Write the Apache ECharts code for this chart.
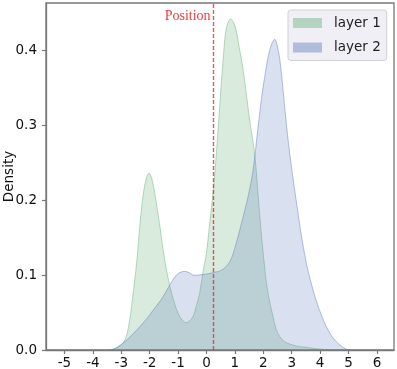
<!DOCTYPE html>
<html>
<head>
<meta charset="utf-8">
<script src="https://cdn.jsdelivr.net/npm/echarts@6/dist/echarts.min.js"></script>
<style>html,body{margin:0;padding:0;background:#fff}#c{width:397px;height:369px}</style>
</head>
<body>
<div id="c"></div>
<script>
const xTicks = [-5,-4,-3,-2,-1,0,1,2,3,4,5,6];
const yTicks = [0,0.1,0.2,0.3,0.4];
const seriesNames = ['layer 1','layer 2'];
const positionX = 0.25;
const positionLabel = 'Position';

const layer1X = [-3.6,-3.3,-3.1,-2.9,-2.75,-2.6,-2.45,-2.35,-2.22,-2.1,-2.02,-1.92,-1.82,-1.64,-1.47,-1.23,-1.0,-0.85,-0.73,-0.6,-0.47,-0.35,-0.24,-0.12,0.0,0.1,0.2,0.3,0.4,0.5,0.6,0.7,0.85,1.0,1.15,1.29,1.52,1.7,1.82,1.93,2.02,2.11,2.22,2.34,2.45,2.58,2.75,2.93,3.2,3.52,3.8,4.0,4.3,4.6];
const layer1Y = [0,0.001,0.004,0.011,0.03,0.07,0.12,0.165,0.21,0.232,0.236,0.228,0.209,0.165,0.12,0.076,0.049,0.04,0.0365,0.039,0.045,0.06,0.076,0.105,0.13,0.165,0.2,0.24,0.29,0.345,0.395,0.43,0.442,0.433,0.405,0.374,0.307,0.26,0.205,0.155,0.12,0.089,0.065,0.045,0.028,0.018,0.011,0.008,0.005,0.0035,0.002,0.0012,0.0003,0];

const layer2X = [-3.5,-3.29,-3.1,-2.82,-2.6,-2.35,-2.1,-1.88,-1.7,-1.53,-1.29,-1.06,-0.9,-0.76,-0.6,-0.45,-0.3,-0.1,0.1,0.3,0.5,0.65,0.82,0.94,1.05,1.17,1.29,1.41,1.52,1.64,1.82,1.95,2.05,2.15,2.23,2.32,2.4,2.48,2.58,2.67,2.76,2.85,2.93,3.05,3.17,3.34,3.52,3.7,3.87,4.05,4.22,4.4,4.57,4.75,4.93,5.1];
const layer2Y = [0,0.001,0.005,0.013,0.021,0.031,0.042,0.053,0.062,0.071,0.087,0.1,0.104,0.105,0.103,0.1,0.1,0.101,0.102,0.104,0.106,0.11,0.118,0.129,0.143,0.16,0.178,0.196,0.215,0.24,0.299,0.34,0.365,0.388,0.401,0.411,0.415,0.408,0.388,0.357,0.321,0.288,0.262,0.228,0.196,0.153,0.115,0.087,0.065,0.046,0.031,0.019,0.011,0.005,0.001,0];

const pair = (xs, ys) => xs.map((x, i) => [x, ys[i]]);

const chart = echarts.init(document.getElementById('c'), null, {renderer: 'canvas'});
const axisColor = '#777';
const labelFont = 'DejaVu Sans';

chart.setOption({
  animation: false,
  grid: {left: 46, right: 3, top: 3, bottom: 19, show: true, borderColor: axisColor, borderWidth: 1.3, backgroundColor: 'transparent', containLabel: false, outerBoundsMode: 'none'},
  legend: {
    left: 288, top: 10,
    orient: 'vertical',
    padding: [6, 6, 6, 5],
    itemWidth: 29, itemHeight: 10, itemGap: 10.5,
    icon: 'rect',
    backgroundColor: 'rgba(234,234,242,0.75)',
    borderColor: '#d0d0d6', borderWidth: 1, borderRadius: 3,
    textStyle: {fontFamily: labelFont, fontSize: 13.5, color: '#222', padding: [0, 0, 0, 7], lineHeight: 10},
    data: [
      {name: seriesNames[0], itemStyle: {color: 'rgba(100,175,118,0.42)', borderWidth: 0}},
      {name: seriesNames[1], itemStyle: {color: 'rgba(90,120,185,0.42)', borderWidth: 0}}
    ]
  },
  xAxis: {
    type: 'value', min: -5.65, max: 6.6,
    splitLine: {show: false},
    axisLine: {show: true, onZero: false, lineStyle: {color: axisColor, width: 1.3}},
    axisTick: {show: true, customValues: xTicks, length: 4, inside: false, lineStyle: {color: axisColor, width: 1.2}},
    axisLabel: {customValues: xTicks, margin: 6, fontFamily: labelFont, fontSize: 13.5, color: '#111'}
  },
  yAxis: {
    type: 'value', min: 0, max: 0.4634,
    name: 'Density', nameLocation: 'middle', nameGap: 30, nameRotate: 90, nameMoveOverlap: false,
    nameTextStyle: {fontFamily: labelFont, fontSize: 13.5, color: '#111'},
    splitLine: {show: false},
    axisLine: {show: true, onZero: false, lineStyle: {color: axisColor, width: 1.3}},
    axisTick: {show: true, customValues: yTicks, length: 4, lineStyle: {color: axisColor, width: 1.2}},
    axisLabel: {customValues: yTicks, margin: 9, fontFamily: labelFont, fontSize: 13.5, color: '#111', formatter: v => v.toFixed(1)}
  },
  series: [
    {
      name: seriesNames[0], type: 'line', smooth: 0.35, showSymbol: false, symbol: 'none',
      data: pair(layer1X, layer1Y),
      itemStyle: {color: 'rgba(100,175,118,0.42)'},
      lineStyle: {color: 'rgba(100,175,118,0.45)', width: 1},
      areaStyle: {color: 'rgba(100,175,118,0.36)', origin: 'start'},
      z: 2
    },
    {
      name: seriesNames[1], type: 'line', smooth: 0.35, showSymbol: false, symbol: 'none',
      data: pair(layer2X, layer2Y),
      itemStyle: {color: 'rgba(90,120,185,0.42)'},
      lineStyle: {color: 'rgba(90,120,185,0.45)', width: 1},
      areaStyle: {color: 'rgba(90,120,185,0.33)', origin: 'start'},
      z: 3,
      markLine: {
        silent: true, symbol: ['none', 'none'],
        lineStyle: {color: 'rgba(214,50,50,0.8)', type: [4, 2], width: 1.4},
        label: {show: false},
        data: [{xAxis: positionX}]
      },
      markPoint: {
        silent: true, symbol: 'circle', symbolSize: 0,
        data: [{coord: [positionX, 0.445], value: positionLabel}],
        label: {show: true, position: 'left', distance: 3, formatter: positionLabel, fontFamily: 'Liberation Serif', fontSize: 14, color: '#f03c3c'}
      }
    }
  ]
});
</script>
</body>
</html>
